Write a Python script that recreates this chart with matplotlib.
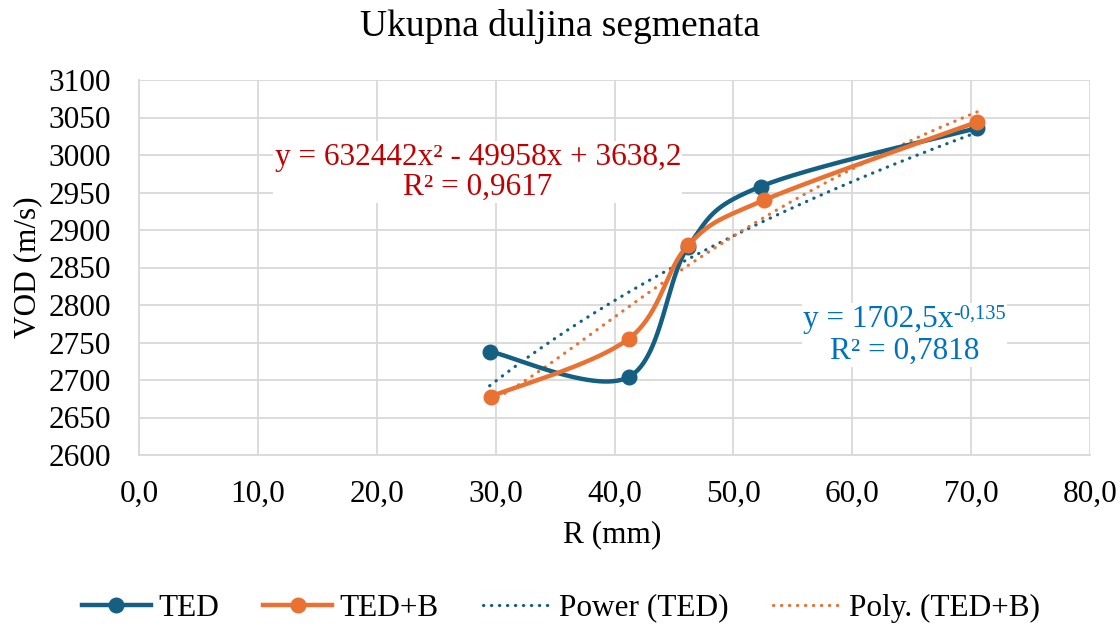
import numpy as np
import matplotlib
matplotlib.use("Agg")
import matplotlib.pyplot as plt
from matplotlib.lines import Line2D
from matplotlib.offsetbox import TextArea, HPacker, VPacker, AnnotationBbox

plt.rcParams['font.family'] = ['Liberation Serif', 'DejaVu Serif']

# ---- data ----
r_ted = [29.5, 41.2, 46.2, 52.3, 70.5]
vod_ted = [2738, 2704, 2878, 2958, 3036]
r_tedb = [29.6, 41.2, 46.2, 52.6, 70.5]
vod_tedb = [2678, 2755, 2880, 2940, 3044]

labels = ["TED", "TED+B", "Power (TED)", "Poly. (TED+B)"]
eq_poly = "y = 632442x² - 49958x + 3638,2\nR² = 0,9617"
eq_pow_base = "y = 1702,5x"
eq_pow_exp = "-0,135"
eq_pow_r2 = "R² = 0,7818"

C1 = "#156082"
C2 = "#E97132"
XMIN, XMAX, YMIN, YMAX = 0, 80, 2600, 3100
FS = 22.5

fig = plt.figure(figsize=(11.2, 6.3), dpi=100)
L, R, T, B = 139, 1090, 80, 455
ax = fig.add_axes([L/1120, 1-B/630, (R-L)/1120, (B-T)/630])
ax.set_xlim(XMIN, XMAX)
ax.set_ylim(YMIN, YMAX)

W = (R-L); H = (B-T)

def smooth(xs, ys):
    # Excel-like bezier smoothing in pixel space
    px = [(x-XMIN)/(XMAX-XMIN)*W for x in xs]
    py = [(y-YMIN)/(YMAX-YMIN)*H for y in ys]
    n = len(px)
    out_x, out_y = [], []
    t = np.linspace(0, 1, 60)
    for i in range(n-1):
        p0 = np.array([px[i], py[i]]); p3 = np.array([px[i+1], py[i+1]])
        pm = np.array([px[i-1], py[i-1]]) if i > 0 else p0
        pp = np.array([px[i+2], py[i+2]]) if i+2 < n else p3
        c1 = p0 + (p3 - pm)/6
        c2 = p3 - (pp - p0)/6
        b = ((1-t)**3)[:, None]*p0 + (3*(1-t)**2*t)[:, None]*c1 + (3*(1-t)*t**2)[:, None]*c2 + (t**3)[:, None]*p3
        out_x.extend(b[:, 0]); out_y.extend(b[:, 1])
    ox = np.array(out_x)/W*(XMAX-XMIN)+XMIN
    oy = np.array(out_y)/H*(YMAX-YMIN)+YMIN
    return ox, oy

# gridlines / ticks
xt = np.arange(0, 81, 10)
ax.set_xticks(xt)
ax.set_yticks(np.arange(2600, 3101, 50))
ax.set_xticklabels([f"{v:.1f}".replace('.', ',') for v in xt])
ax.grid(True, color="#D9D9D9", linewidth=1.3)
ax.set_axisbelow(True)
for s in ax.spines.values():
    s.set_visible(False)
for side in ('left', 'bottom'):
    ax.spines[side].set_visible(True)
    ax.spines[side].set_color("#D9D9D9")
    ax.spines[side].set_linewidth(1.3)
ax.tick_params(length=0, labelsize=FS)
ax.tick_params(axis='y', pad=20)
ax.tick_params(axis='x', pad=18)

DOT = (0, (0.1, 2.4))
# trendlines (fitted from data, x = 1/R)
xr = np.array(r_ted, float); yr = np.array(vod_ted, float)
b, la = np.polyfit(np.log(1/xr), np.log(yr), 1)
xx = np.linspace(min(r_ted), max(r_ted), 200)
ax.plot(xx, np.exp(la)*(1/xx)**b, color=C1, lw=2.3, linestyle=DOT,
        dash_capstyle='round', zorder=2)
xb = np.array(r_tedb, float); yb = np.array(vod_tedb, float)
cp = np.polyfit(1/xb, yb, 2)
xx2 = np.linspace(min(r_tedb), max(r_tedb), 200)
ax.plot(xx2, np.polyval(cp, 1/xx2), color=C2, lw=2.3, linestyle=DOT,
        dash_capstyle='round', zorder=2)

# series
sx, sy = smooth(r_ted, vod_ted)
ax.plot(sx, sy, color=C1, lw=3.2, zorder=3, solid_capstyle='round')
ax.plot(r_ted, vod_ted, 'o', color=C1, ms=10.5, zorder=4)
sx, sy = smooth(r_tedb, vod_tedb)
ax.plot(sx, sy, color=C2, lw=3.2, zorder=5, solid_capstyle='round')
ax.plot(r_tedb, vod_tedb, 'o', color=C2, ms=10.5, zorder=6)

# equations
ax.text(28.5, 2977, eq_poly, color="#C00000", fontsize=FS, ha='center', va='center',
        linespacing=1.05, bbox=dict(facecolor='white', edgecolor='none', pad=1), zorder=7)

blue = "#0070C0"
line1 = HPacker(children=[TextArea(eq_pow_base, textprops=dict(color=blue, fontsize=FS)),
                          TextArea(eq_pow_exp, textprops=dict(color=blue, fontsize=FS*0.65))],
                align='top', pad=0, sep=0)
line2 = TextArea(eq_pow_r2, textprops=dict(color=blue, fontsize=FS))
box = VPacker(children=[line1, line2], align='center', pad=0, sep=2)
ab = AnnotationBbox(box, (64.4, 2760), xycoords='data', frameon=True,
                    bboxprops=dict(facecolor='white', edgecolor='none'), pad=0.1,
                    box_alignment=(0.5, 0.5), zorder=7)
ax.add_artist(ab)

fig.text(560/1120, 1-27/630, "Ukupna duljina segmenata", fontsize=27,
         ha='center', va='center')
ax.set_xlabel("R (mm)", fontsize=FS)
ax.set_ylabel("VOD (m/s)", fontsize=FS)
ax.xaxis.set_label_coords((612-L)/W, -(535-B)/H)
ax.xaxis.label.set_va('center')
ax.yaxis.set_label_coords((28-L)/W, 0.5)
ax.yaxis.label.set_va('center')

handles = [
    Line2D([], [], color=C1, lw=3.2, marker='o', ms=10.5),
    Line2D([], [], color=C2, lw=3.2, marker='o', ms=10.5),
    Line2D([], [], color=C1, lw=2.3, linestyle=DOT, dash_capstyle='round'),
    Line2D([], [], color=C2, lw=2.3, linestyle=DOT, dash_capstyle='round'),
]
fig.legend(handles, labels, loc='center', bbox_to_anchor=(561/1120, 1-608/630), ncol=4,
           frameon=False, fontsize=FS, handlelength=2.2, handletextpad=0.25,
           columnspacing=1.4, borderpad=0, borderaxespad=0)

fig.savefig("out.png", dpi=100)
